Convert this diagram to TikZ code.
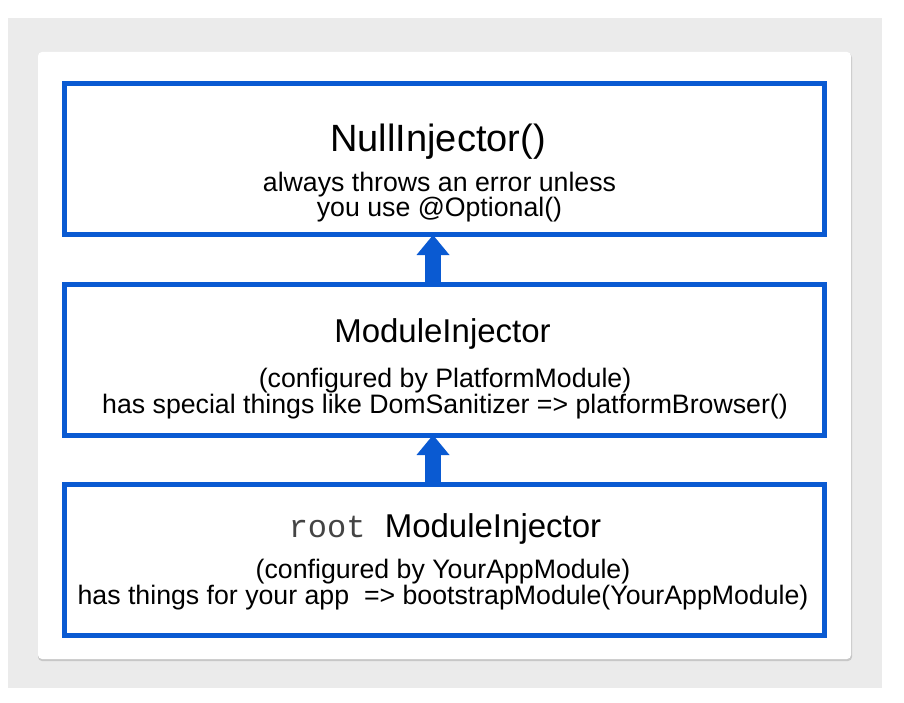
\documentclass[tikz,border=0pt]{standalone}
\usepackage{fontspec}
\setmainfont{Liberation Sans}
\setmonofont{Liberation Mono}
\usetikzlibrary{arrows.meta}
\definecolor{boxblue}{HTML}{0A5AD2}
\definecolor{bggray}{HTML}{EBEBEB}
\definecolor{rootgray}{HTML}{444444}
\begin{document}
\begin{tikzpicture}[x=1pt,y=-1pt,
  injbox/.style={draw=boxblue, line width=5pt, outer sep=0pt, inner sep=0pt, minimum width=760pt, minimum height=151pt},
  headbig/.style={anchor=base, inner sep=0pt, font=\fontsize{38}{44}\selectfont},
  head/.style={anchor=base, inner sep=0pt, font=\fontsize{33}{40}\selectfont},
  body/.style={anchor=base, inner sep=0pt, align=center, font=\fontsize{26.7}{#1}\selectfont},
  uparrow/.style={draw=boxblue, line width=16pt, -{Triangle[width=33pt,length=20pt,line width=0pt]}}
]
\useasboundingbox (0,0) rectangle (904,703);
\fill[white] (0,0) rectangle (904,703);
\fill[bggray] (8,18) rectangle (882,688);
\fill[black!22, rounded corners=4pt] (38,53.5) rectangle (852,661);
\fill[white, rounded corners=4pt] (38,52) rectangle (851,659);

\node[injbox] (b1) at (444,159.5) {};
\node[injbox] (b2) at (444,359.5) {};
\node[injbox] (b3) at (444,559.5) {};

\node[headbig] (t1) at (438,152) {NullInjector()};
\node[body=25pt] (t1a) at (439.5,217) {always throws an error unless\\you use @Optional()};

\node[head] (t2) at (442.5,342) {ModuleInjector};
\node[body=24pt] (t2a) at (445,413) {(configured by PlatformModule)\\has special things like DomSanitizer => platformBrowser()};

\node[head] (t3) at (445,537) {{\fontsize{32}{38}\ttfamily\color{rootgray}root\ }ModuleInjector};
\node[body=23pt] (t3a) at (443,604) {(configured by YourAppModule)\\has things for your app\ \ => bootstrapModule(YourAppModule)};

\draw[uparrow] ([xshift=-11pt]b2.north) -- ([xshift=-11pt]b1.south);
\draw[uparrow] ([xshift=-11pt]b3.north) -- ([xshift=-11pt]b2.south);
\end{tikzpicture}
\end{document}
